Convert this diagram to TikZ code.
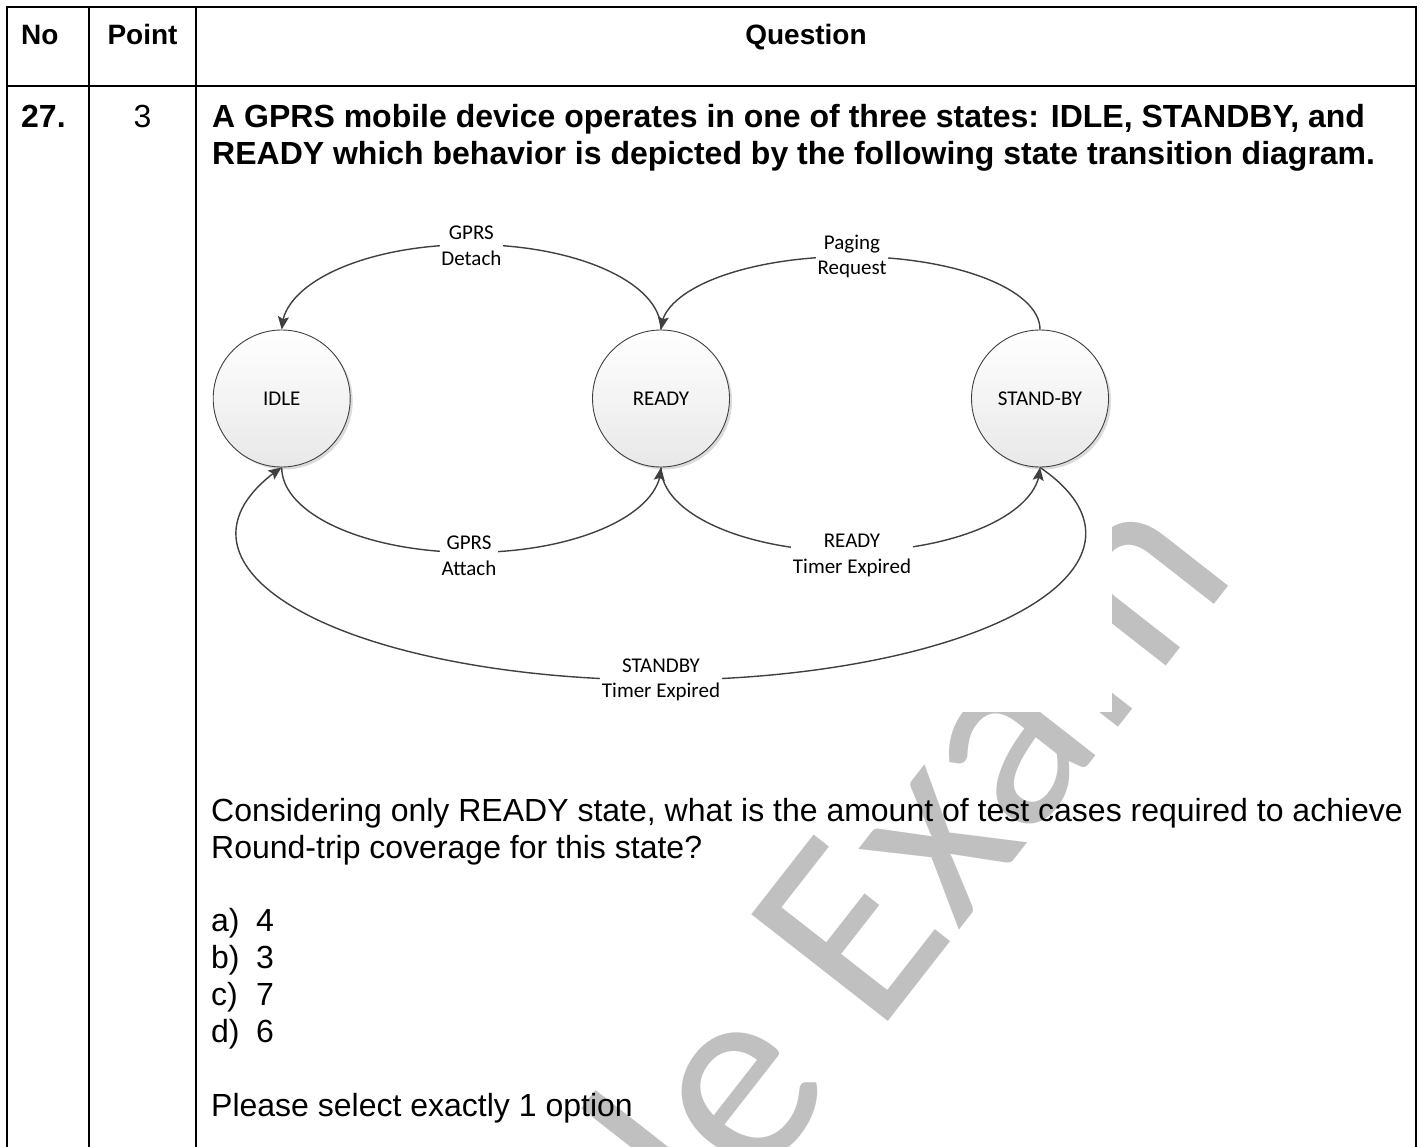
\documentclass[tikz,border=0pt]{standalone}
\usepackage{fontspec}
\setmainfont{Liberation Sans}
\newfontfamily\calfont{Carlito}
\usetikzlibrary{arrows.meta,bending,shadows}
\definecolor{lineg}{HTML}{404040}
\definecolor{wmgray}{HTML}{C0C0C0}
\begin{document}
\begin{tikzpicture}[x=1pt,y=-1pt,
  tline/.style={line width=2pt, black},
  state/.style={circle, draw=lineg, line width=0.9pt, minimum size=137pt, inner sep=0pt,
    top color=white, bottom color=black!9,
    font=\calfont\fontsize{21}{25.6}\selectfont,
    drop shadow={shadow xshift=2.5pt, shadow yshift=-2.5pt, fill=black!14, opacity=1}},
  lbl/.style={fill=white, inner xsep=1.5pt, inner ysep=1pt, align=center,
    font=\calfont\fontsize{21}{25.6}\selectfont},
  conn/.style={draw=lineg, line width=1.4pt, -{Stealth[length=13pt, width=11pt, inset=2.5pt]}},
  body/.style={anchor=base west, inner sep=0pt, font=\fontsize{32}{37}\selectfont},
  bodyc/.style={anchor=base, inner sep=0pt, font=\fontsize{32}{37}\selectfont},
  bold/.style={anchor=base west, inner sep=0pt, font=\fontsize{32}{37}\selectfont\bfseries},
  hdr/.style={anchor=base west, inner sep=0pt, font=\fontsize{28}{37}\selectfont\bfseries},
  hdrc/.style={anchor=base, inner sep=0pt, font=\fontsize{28}{37}\selectfont\bfseries},
  wm/.style={text=wmgray, inner sep=0pt, font=\calfont\fontsize{270}{270}\selectfont}
]
\useasboundingbox (0,0) rectangle (1423,1147);
\fill[white] (0,0) rectangle (1423,1147);

% watermark
\node[wm, rotate=52, anchor=base east] (wmark) at (1239,572) {Sample Exam};
% diagram picture area (opaque)
\fill[white] (200,190) rectangle (1112,712);

% table
\draw[tline] (6.5,1147) -- (6.5,7) -- (1416,7) -- (1416,1147);
\draw[tline] (6.5,86) -- (1416,86);
\draw[tline] (89,7) -- (89,1147);
\draw[tline] (196,7) -- (196,1147);

% header
\node[hdr] (hno) at (21,45) {No};
\node[hdrc] (hpt) at (142.5,45) {Point};
\node[hdrc] (hq) at (806,45) {Question};

% row
\node[bold] (num) at (21,128) {27.};
\node[bodyc] (pts) at (142.5,128) {3};
\node[bold] (t1) at (212,128) {A GPRS mobile device operates in one of three states: IDLE, STANDBY, and};
\node[bold] (t2) at (212,165) {READY which behavior is depicted by the following state transition diagram.};

% states
\node[state] (idle) at (281.7,398.5) {IDLE};
\node[state] (ready) at (661,398.5) {READY};
\node[state] (standby) at (1040,398.5) {STAND-BY};

% transitions
\draw[conn] (ready.north) arc[start angle=0, end angle=180, x radius=189.65pt, y radius=85pt];
\draw[conn] (standby.north) arc[start angle=0, end angle=180, x radius=189.5pt, y radius=73pt];
\draw[conn] (idle.south) arc[start angle=180, end angle=360, x radius=189.65pt, y radius=85pt];
\draw[conn] (ready.south) arc[start angle=180, end angle=360, x radius=189.5pt, y radius=84pt];
\draw[conn] (standby.south) arc[start angle=26.8, end angle=-206.8, x radius=424.9pt, y radius=146.5pt];

\node[lbl] (ldetach) at (471.4,245.5) {GPRS\\Detach};
\node[lbl] (lpaging) at (852,256.5) {Paging\\Request};
\node[lbl] (lattach) at (469,555.5) {GPRS\\Attach};
\node[lbl] (lrtimer) at (852,555.5) {READY\\Timer Expired};
\node[lbl] (lstimer) at (661,680) {STANDBY\\Timer Expired};

% question body
\node[body] (q1) at (211,821.5) {Considering only READY state, what is the amount of test cases required to achieve};
\node[body] (q2) at (211,858.5) {Round-trip coverage for this state?};
\node[body] (oa) at (211,931.7) {a)};
\node[body] (va) at (256,931.7) {4};
\node[body] (ob) at (211,968.6) {b)};
\node[body] (vb) at (256,968.6) {3};
\node[body] (oc) at (211,1005.6) {c)};
\node[body] (vc) at (256,1005.6) {7};
\node[body] (od) at (211,1042.6) {d)};
\node[body] (vd) at (256,1042.6) {6};
\node[body] (sel) at (211,1116) {Please select exactly 1 option};
\end{tikzpicture}
\end{document}
